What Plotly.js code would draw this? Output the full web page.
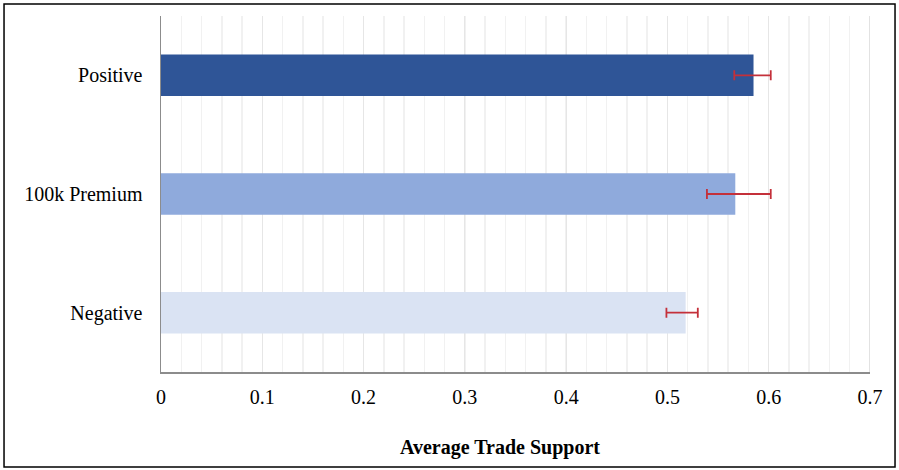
<!DOCTYPE html>
<html>
<head>
<meta charset="utf-8">
<script src="https://cdn.plot.ly/plotly-3.0.1.min.js"></script>
<style>html,body{margin:0;padding:0;background:#fff;}#chart{width:899px;height:470px;}</style>
</head>
<body>
<div id="chart"></div>
<script>
const categories = ['Positive', '100k Premium', 'Negative'];
const values = [0.585, 0.567, 0.518];
const errPlus = [0.017, 0.035, 0.012];
const errMinus = [0.019, 0.028, 0.019];
const barColors = ['#2F5597', '#8FAADC', '#DAE3F3'];
const xTickVals = [0, 0.1, 0.2, 0.3, 0.4, 0.5, 0.6, 0.7];
const xTickText = ['0', '0.1', '0.2', '0.3', '0.4', '0.5', '0.6', '0.7'];
const xTitle = 'Average Trade Support';

const trace = {
  type: 'bar',
  orientation: 'h',
  y: categories,
  x: values,
  width: 0.35,
  marker: {color: barColors},
  error_x: {
    type: 'data', symmetric: false,
    array: errPlus, arrayminus: errMinus,
    color: '#C4303A', thickness: 1.8, width: 5
  },
  hoverinfo: 'x+y'
};

const layout = {
  width: 899, height: 470,
  margin: {l: 161, r: 29, t: 16, b: 98},
  paper_bgcolor: '#fff', plot_bgcolor: '#fff',
  showlegend: false,
  font: {family: '"Liberation Serif", "Times New Roman", serif', color: '#000', size: 20},
  xaxis: {
    range: [0, 0.7],
    tickvals: xTickVals, ticktext: xTickText,
    showgrid: true, gridcolor: '#e6e6e6', gridwidth: 1,
    minor: {dtick: 0.02, showgrid: true, gridcolor: '#f1f1f1', gridwidth: 1.5},
    zeroline: false,
    showline: true, linecolor: '#8c8c8c', linewidth: 1.5,
    ticks: '', ticklabelstandoff: 6,
    tickfont: {size: 20},
    fixedrange: true
  },
  yaxis: {
    autorange: 'reversed',
    showline: true, linecolor: '#8c8c8c', linewidth: 1.5,
    showgrid: false, zeroline: false,
    ticks: '', ticklabelstandoff: 13,
    tickfont: {size: 20},
    fixedrange: true
  },
  annotations: [
    {text: '<b>' + xTitle + '</b>', xref: 'paper', yref: 'paper',
     x: 0.478, y: -0.2107, xanchor: 'center', yanchor: 'middle',
     showarrow: false, font: {size: 20}}
  ],
  shapes: [
    {type: 'line', xref: 'x', yref: 'paper', x0: 0.7, x1: 0.7, y0: 0, y1: 1,
     line: {color: '#d9d9d9', width: 1.5}},
    {type: 'rect', xref: 'paper', yref: 'paper',
     x0: -0.2214, x1: 1.0353, y0: -0.2669, y1: 1.0337,
     line: {color: '#000', width: 1.5}, fillcolor: 'rgba(0,0,0,0)'}
  ]
};

Plotly.newPlot('chart', [trace], layout, {displayModeBar: false, staticPlot: true});
</script>
</body>
</html>
